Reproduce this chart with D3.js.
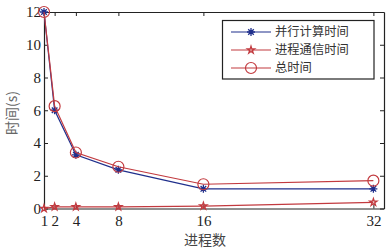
<!DOCTYPE html>
<html>
<head>
<meta charset="utf-8">
<script src="https://cdn.jsdelivr.net/npm/d3@7"></script>
<style>
  body { margin: 0; background: #fff; }
  svg { display: block; }
</style>
</head>
<body>
<svg id="chart" width="392" height="249"></svg>
<script>
// data
var procs = [1, 2, 4, 8, 16, 32];
var computeTime = [12, 6.0, 3.28, 2.36, 1.2, 1.2];
var commTime = [0, 0.1, 0.1, 0.1, 0.15, 0.38];
var totalTime = [12, 6.25, 3.42, 2.55, 1.48, 1.7];
var xTicks = [1, 2, 4, 8, 16, 32];
var yTicks = [0, 2, 4, 6, 8, 10, 12];
var seriesNames = ['并行计算时间', '进程通信时间', '总时间'];

var svg = d3.select('#chart');
var plotLeft = 44, plotRight = 384, plotTop = 12, plotBottom = 208.5;
var blue = '#1f2f8c', red = '#c23a3f';

var x = d3.scaleLinear().domain([1, 33]).range([plotLeft, plotRight]);
var y = d3.scaleLinear().domain([0, 12]).range([plotBottom, plotTop]);

var serif = '"Liberation Serif", "Times New Roman", serif';
var cjk = '"Noto Sans CJK SC", sans-serif';

// axes with inward ticks (matlab style)
svg.append('g')
  .attr('transform', `translate(0, ${plotBottom})`)
  .call(d3.axisBottom(x).tickValues(xTicks).tickSizeInner(-4).tickSizeOuter(0).tickPadding(7));
svg.append('g')
  .attr('transform', `translate(${plotLeft}, 0)`)
  .call(d3.axisLeft(y).tickValues(yTicks).tickSizeInner(-4).tickSizeOuter(0).tickPadding(3));
svg.append('g')
  .attr('transform', `translate(0, ${plotTop})`)
  .call(d3.axisTop(x).tickValues(xTicks).tickSizeInner(-4).tickSizeOuter(0).tickFormat(''));
svg.append('g')
  .attr('transform', `translate(${plotRight}, 0)`)
  .call(d3.axisRight(y).tickValues(yTicks).tickSizeInner(-4).tickSizeOuter(0).tickFormat(''));

svg.selectAll('.domain').attr('stroke', '#222').attr('stroke-width', 1.2);
svg.selectAll('.tick line').attr('stroke', '#222');
svg.selectAll('.tick text')
  .attr('font-family', serif)
  .style('font-family', serif)
  .style('font-size', '15px')
  .attr('fill', '#222');

// series
var series = [
  { name: seriesNames[0], values: computeTime, color: blue, marker: 'asterisk' },
  { name: seriesNames[1], values: commTime, color: red, marker: 'star' },
  { name: seriesNames[2], values: totalTime, color: red, marker: 'circle' }
];

var line = d3.line().x(d => x(d[0])).y(d => y(d[1]));

function drawMarker(g, kind, color) {
  if (kind === 'circle') {
    g.append('circle').attr('r', 5.5).attr('fill', 'none').attr('stroke', color).attr('stroke-width', 1.2);
  } else if (kind === 'star') {
    g.append('path')
      .attr('d', d3.symbol().type(d3.symbolStar).size(16)())
      .attr('fill', 'none').attr('stroke', color).attr('stroke-width', 1.3);
  } else {
    g.append('path')
      .attr('d', 'M0,-4V4M-4,0H4M-2.8,-2.8L2.8,2.8M-2.8,2.8L2.8,-2.8')
      .attr('stroke', color).attr('stroke-width', 1.3);
  }
}

series.forEach(function(s) {
  var pts = procs.map((p, i) => [p, s.values[i]]);
  svg.append('path')
    .datum(pts)
    .attr('d', line)
    .attr('fill', 'none')
    .attr('stroke', s.color)
    .attr('stroke-width', 1.2);
  pts.forEach(function(p) {
    var g = svg.append('g').attr('transform', `translate(${x(p[0])}, ${y(p[1])})`);
    drawMarker(g, s.marker, s.color);
  });
});

// legend
var legend = svg.append('g');
legend.append('rect')
  .attr('x', 222.5).attr('y', 20.5)
  .attr('width', 151.5).attr('height', 58.5)
  .attr('fill', '#fff').attr('stroke', '#222').attr('stroke-width', 1.2);
var legY = [32, 50, 68];
series.forEach(function(s, i) {
  legend.append('line')
    .attr('x1', 231).attr('x2', 271)
    .attr('y1', legY[i]).attr('y2', legY[i])
    .attr('stroke', s.color).attr('stroke-width', 1.2);
  var g = legend.append('g').attr('transform', `translate(251, ${legY[i]})`);
  drawMarker(g, s.marker, s.color);
  legend.append('text')
    .attr('x', 275).attr('y', legY[i])
    .attr('dy', '0.36em')
    .style('font-family', cjk)
    .style('font-size', '12.3px')
    .attr('fill', '#333')
    .text(s.name);
});

// axis titles
svg.append('text')
  .attr('x', 205).attr('y', 240)
  .attr('dy', '0.36em')
  .attr('text-anchor', 'middle')
  .style('font-family', cjk)
  .style('font-size', '14px')
  .attr('fill', '#444')
  .text('进程数');

svg.append('text')
  .attr('transform', 'translate(12, 113) rotate(-90)')
  .attr('dy', '0.36em')
  .attr('text-anchor', 'middle')
  .style('font-family', cjk)
  .style('font-size', '14px')
  .attr('fill', '#666')
  .text('时间(s)');
</script>
</body>
</html>
